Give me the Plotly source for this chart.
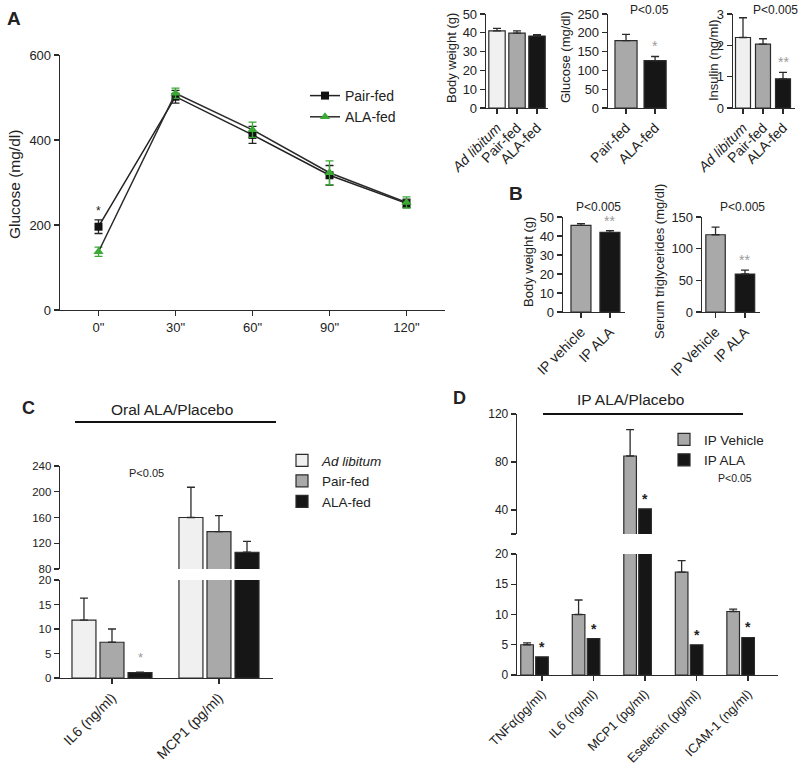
import plotly.graph_objects as go

W, H = 800, 770
FONT = "Liberation Sans, Arial, Helvetica, sans-serif"
AX = "#2b2b2b"
TXT = "#222222"
LIGHT, GREY, DARK = "#f0f0f0", "#a9a9a9", "#161616"
GREEN = "#3aaa35"
STAR_GREY = "#9a9a9a"

# ---------------- data ----------------
# Panel A: glucose tolerance
time_labels = ['0"', '30"', '60"', '90"', '120"']
pair_fed_glucose = [196, 502, 412, 317, 251]
pair_fed_err = [16, 15, 20, 23, 10]
ala_fed_glucose = [137, 510, 424, 323, 253]
ala_fed_err = [11, 12, 18, 28, 13]

# Panel A insets
diet_groups = ["<i>Ad libitum</i>", "Pair-fed", "ALA-fed"]
body_weight = [41.0, 39.8, 38.3]
body_weight_err = [1.4, 1.2, 0.7]
glucose_groups = ["Pair-fed", "ALA-fed"]
fasting_glucose = [179, 126]
fasting_glucose_err = [17, 11]
insulin = [2.25, 2.04, 0.93]
insulin_err = [0.63, 0.17, 0.21]

# Panel B
ip_groups_bw = ["IP vehicle", "IP ALA"]
ip_body_weight = [45.6, 41.9]
ip_body_weight_err = [0.9, 0.9]
ip_groups_tg = ["IP Vehicle", "IP ALA"]
serum_tg = [122, 60]
serum_tg_err = [12, 6]

# Panel C
c_markers = ["IL6 (ng/ml)", "MCP1 (pg/ml)"]
c_ad_lib = [11.8, 160]
c_ad_lib_err = [4.5, 47]
c_pair_fed = [7.3, 138]
c_pair_fed_err = [2.7, 25]
c_ala_fed = [1.1, 106]
c_ala_fed_err = [0.1, 17]

# Panel D
d_markers = ["TNF\u03b1(pg/ml)", "IL6 (ng/ml)", "MCP1 (pg/ml)", "Eselectin (pg/ml)", "ICAM-1 (ng/ml)"]
d_vehicle = [5.0, 10.0, 85, 17, 10.5]
d_vehicle_err = [0.3, 2.4, 22, 1.9, 0.4]
d_ala = [3.0, 6.0, 41, 5.0, 6.2]


# ---------------- helpers ----------------
def dx(a, b):
    return [a / W, b / W]


def dy(top, bottom):
    return [1 - bottom / H, 1 - top / H]


def px(xp):
    return xp / W


def py(yp):
    return 1 - yp / H


def axis(domain, rng=None, size=13, **kw):
    d = dict(domain=domain, showline=True, linecolor=AX, linewidth=1.3,
             ticks="outside", ticklen=5, tickwidth=1.3, tickcolor=AX,
             showgrid=False, zeroline=False, fixedrange=True, automargin=False,
             tickfont=dict(size=size, color=TXT, family=FONT))
    if rng is not None:
        d["range"] = rng
    d.update(kw)
    return d


def errs(arr, color=AX, width=4):
    return dict(type="data", array=arr, arrayminus=[0] * len(arr), symmetric=False,
                color=color, thickness=1.3, width=width)


def bar(x, y, colors, width, xa, ya, err=None, name=None, legend=None, showlegend=False):
    b = go.Bar(x=x, y=y, width=width,
               marker=dict(color=colors, line=dict(color=AX, width=1.2)),
               xaxis=xa, yaxis=ya, name=name, showlegend=showlegend, hoverinfo="skip")
    if err is not None:
        b.error_y = errs(err)
    if legend:
        b.legend = legend
    return b


fig = go.Figure()

# ---------------- Panel A line chart ----------------
idx_t = list(range(len(time_labels)))
fig.add_trace(go.Scatter(
    x=idx_t, y=pair_fed_glucose, mode="lines+markers", name="Pair-fed",
    line=dict(color="#222", width=1.5),
    marker=dict(symbol="square", size=8, color="#111"),
    error_y=dict(type="data", array=pair_fed_err, color="#222", thickness=1.3, width=4),
    xaxis="x", yaxis="y", legend="legend", legendgroup="a1"))
fig.add_trace(go.Scatter(
    x=idx_t, y=ala_fed_glucose, mode="lines+markers", name="ALA-fed",
    line=dict(color="#2a2a2a", width=1.5),
    marker=dict(symbol="triangle-up", size=9, color=GREEN),
    error_y=dict(type="data", array=ala_fed_err, color=GREEN, thickness=1.3, width=4),
    xaxis="x", yaxis="y", legend="legend", legendgroup="a2"))

# ---------------- Insets ----------------
cols3 = [LIGHT, GREY, DARK]
fig.add_trace(bar(list(range(3)), body_weight, cols3, 0.82, "x2", "y2", body_weight_err))
fig.add_trace(bar(list(range(2)), fasting_glucose, [GREY, DARK], 0.76, "x3", "y3", fasting_glucose_err))
fig.add_trace(bar(list(range(3)), insulin, cols3, 0.75, "x4", "y4", insulin_err))

# ---------------- Panel B ----------------
fig.add_trace(bar(list(range(2)), ip_body_weight, [GREY, DARK], 0.69, "x5", "y5", ip_body_weight_err))
fig.add_trace(bar(list(range(2)), serum_tg, [GREY, DARK], 0.66, "x6", "y6", serum_tg_err))

# ---------------- Panel C (broken axis) ----------------
c_off = 0.262
c_w = 0.224
c_idx = list(range(len(c_markers)))
c_series = [("<i>Ad libitum</i>", c_ad_lib, c_ad_lib_err, LIGHT, -c_off),
            ("Pair-fed", c_pair_fed, c_pair_fed_err, GREY, 0.0),
            ("ALA-fed", c_ala_fed, c_ala_fed_err, DARK, c_off)]
for name, vals, er, col, off in c_series:
    xs = [i + off for i in c_idx]
    fig.add_trace(bar(xs, vals, col, c_w, "x7", "y7", er, name=name,
                      legend="legend2", showlegend=True))
    fig.add_trace(bar(xs, vals, col, c_w, "x8", "y8", er))

# ---------------- Panel D (broken axis) ----------------
d_off = 0.29
d_w = 0.245
d_idx = list(range(len(d_markers)))
for xa, ya, show in [("x9", "y9", True), ("x10", "y10", False)]:
    fig.add_trace(bar([i - d_off for i in d_idx], d_vehicle, GREY, d_w, xa, ya, d_vehicle_err,
                      name="IP Vehicle", legend="legend3", showlegend=show))
    fig.add_trace(bar(d_idx, d_ala, DARK, d_w, xa, ya, None,
                      name="IP ALA", legend="legend3", showlegend=show))

# ---------------- axes ----------------
lay = dict(
    xaxis=axis(dx(60, 445), [-0.5, 4.5], 13, anchor="y", tickvals=idx_t, ticktext=time_labels),
    yaxis=axis(dy(55, 310), [0, 600], 13, anchor="x", dtick=200),
    xaxis2=axis(dx(486, 548), [-0.55, 2.55], 14, anchor="y2", tickvals=[0, 1, 2],
                ticktext=diet_groups, tickangle=-45),
    yaxis2=axis(dy(14, 108), [0, 50], 13, anchor="x2", dtick=10),
    xaxis3=axis(dx(608, 667), [-0.62, 1.41], 14, anchor="y3", tickvals=[0, 1],
                ticktext=glucose_groups, tickangle=-45),
    yaxis3=axis(dy(14, 108), [0, 250], 13, anchor="x3", dtick=50),
    xaxis4=axis(dx(733, 795), [-0.5, 2.6], 14, anchor="y4", tickvals=[0, 1, 2],
                ticktext=diet_groups, tickangle=-45),
    yaxis4=axis(dy(14, 108), [0, 3], 13, anchor="x4", dtick=1),
    xaxis5=axis(dx(563, 625), [-0.62, 1.52], 14, anchor="y5", tickvals=[0, 1],
                ticktext=ip_groups_bw, tickangle=-45),
    yaxis5=axis(dy(217, 312), [0, 50], 13, anchor="x5", dtick=10),
    xaxis6=axis(dx(702, 760), [-0.46, 1.51], 14, anchor="y6", tickvals=[0, 1],
                ticktext=ip_groups_tg, tickangle=-45),
    yaxis6=axis(dy(217, 312), [0, 150], 13, anchor="x6", dtick=50),
    xaxis7=axis(dx(60, 273), [-0.486, 1.505], 14, anchor="y7", tickvals=c_idx,
                ticktext=c_markers, tickangle=-45),
    yaxis7=axis(dy(580, 678), [0, 20], 11.5, anchor="x7", dtick=5),
    xaxis8=axis(dx(60, 273), [-0.486, 1.505], 13, anchor="y8", matches="x7", visible=False),
    yaxis8=axis(dy(466, 569), [80, 240], 11.5, anchor="x8", dtick=40),
    xaxis9=axis(dx(517, 778), [-0.485, 4.58], 13, anchor="y9", tickvals=d_idx,
                ticktext=d_markers, tickangle=-45),
    yaxis9=axis(dy(554, 675), [0, 20], 12, anchor="x9", dtick=5),
    xaxis10=axis(dx(517, 778), [-0.485, 4.58], 12, anchor="y10", matches="x9", visible=False),
    yaxis10=axis(dy(414, 534), [20, 120], 12, anchor="x10", tickvals=[20, 40, 80, 120],
                 ticktext=["", "40", "80", "120"]),
)
fig.update_layout(**lay)

# ---------------- annotations ----------------
ann = []


def text(x, y, s, size=13, bold=False, angle=0, color=TXT, xanchor="center", yanchor="middle",
         xref="paper", yref="paper"):
    if bold:
        s = "<b>" + s + "</b>"
    ann.append(dict(x=x, y=y, xref=xref, yref=yref, text=s, showarrow=False, textangle=angle,
                    font=dict(size=size, color=color, family=FONT),
                    xanchor=xanchor, yanchor=yanchor))


# panel letters
text(px(14), py(18), "A", 19, True)
text(px(516), py(194), "B", 19, True)
text(px(29), py(408), "C", 18, True)
text(px(460), py(398), "D", 18, True)

# y titles
text(px(14), py(185), "Glucose (mg/dl)", 15.5, angle=-90)
text(px(451), py(58), "Body weight (g)", 13, angle=-90)
text(px(566), py(57), "Glucose (mg/dl)", 13, angle=-90)
text(px(713), py(60), "Insulin (ng/ml)", 13, angle=-90)
text(px(528), py(262), "Body weight (g)", 13, angle=-90)
text(px(659), py(262), "Serum triglycerides (mg/dl)", 13, angle=-90)

# p values
text(px(649), py(10), "P&lt;0.05", 12)
text(px(775), py(10), "P&lt;0.005", 12)
text(px(598), py(207), "P&lt;0.005", 12)
text(px(742), py(207), "P&lt;0.005", 12)
text(px(146), py(473), "P&lt;0.05", 11)
text(px(735), py(478), "P&lt;0.05", 10.5)

# panel titles
text(px(172), py(409), "Oral ALA/Placebo", 15.5)
text(px(630), py(399), "IP ALA/Placebo", 15.5)

# significance stars (data coordinates)
text(0, pair_fed_glucose[0] + pair_fed_err[0], "*", 12, xref="x", yref="y", yanchor="bottom")
text(1, fasting_glucose[1] + fasting_glucose_err[1], "*", 14, color=STAR_GREY,
     xref="x3", yref="y3", yanchor="bottom")
text(2, insulin[2] + insulin_err[2], "**", 14, color=STAR_GREY,
     xref="x4", yref="y4", yanchor="bottom")
text(1, ip_body_weight[1] + ip_body_weight_err[1], "**", 14, color=STAR_GREY,
     xref="x5", yref="y5", yanchor="bottom")
text(1, serum_tg[1] + serum_tg_err[1], "**", 14, color=STAR_GREY,
     xref="x6", yref="y6", yanchor="bottom")
text(0 + c_off, c_ala_fed[0] + c_ala_fed_err[0] + 1.0, "*", 13, color=STAR_GREY,
     xref="x7", yref="y7", yanchor="bottom")
for i, v in enumerate(d_ala):
    if v > 20:
        text(i, v, "*", 14, True, xref="x10", yref="y10", yanchor="bottom")
    else:
        text(i, v, "*", 14, True, xref="x9", yref="y9", yanchor="bottom")

shapes = [
    dict(type="line", xref="paper", yref="paper", x0=px(75), x1=px(276), y0=py(422), y1=py(422),
         line=dict(color="#111", width=2)),
    dict(type="line", xref="paper", yref="paper", x0=px(543), x1=px(743), y0=py(414), y1=py(414),
         line=dict(color="#111", width=2)),
]


def leg(x, y, size, **kw):
    d = dict(x=px(x), y=py(y), xref="container", yref="container", xanchor="left", yanchor="top",
             bgcolor="rgba(0,0,0,0)", font=dict(size=size, family=FONT, color=TXT),
             itemclick=False, itemdoubleclick=False, traceorder="normal")
    d.update(kw)
    return d


fig.update_layout(
    width=W, height=H, margin=dict(l=0, r=0, t=0, b=0, autoexpand=False),
    paper_bgcolor="white", plot_bgcolor="white",
    font=dict(family=FONT, color=TXT),
    barmode="overlay", showlegend=True,
    annotations=ann, shapes=shapes,
    legend=leg(305, 80, 14, tracegroupgap=8),
    legend2=leg(282, 445, 13.5),
    legend3=leg(664, 424, 13.5),
)

fig.write_html(
    "out.html",
    config={"displayModeBar": False, "staticPlot": True},
    post_script="document.body.style.margin='0px';document.body.style.padding='0px';",
)
